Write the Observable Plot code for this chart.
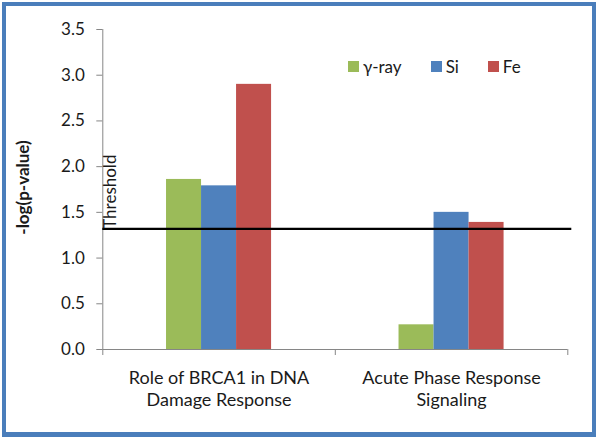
<!DOCTYPE html>
<html>
<head>
<meta charset="utf-8">
<script src="https://cdn.jsdelivr.net/npm/d3@7"></script>
<script src="https://cdn.jsdelivr.net/npm/@observablehq/plot@0.6"></script>
<style>
  html, body { margin: 0; padding: 0; background: #ffffff; }
  #wrap { position: relative; width: 600px; height: 439px; overflow: hidden; font-family: Lato, "Open Sans", sans-serif; }
  #chart { position: absolute; left: 0; top: 0; }
  #frame { position: absolute; left: 2px; top: 2px; width: 594px; height: 435px; box-sizing: border-box; border: 4px solid #4a7ebb; border-bottom-width: 5px; pointer-events: none; }
  #legend { position: absolute; left: 348px; top: 55px; height: 22px; display: flex; align-items: center; font-size: 17px; color: #1a1a1a; }
  #legend .item { display: flex; align-items: center; margin-right: 29px; }
  #legend .sw { width: 11px; height: 11px; margin-right: 4px; }
</style>
</head>
<body>
<div id="wrap">
  <div id="chart"></div>
  <div id="legend"></div>
  <div id="frame"></div>
</div>
<script>
// ---- data ----
const categories = ["Role of BRCA1 in DNA\nDamage Response", "Acute Phase Response\nSignaling"];
const series = ["γ-ray", "Si", "Fe"];
const gammaRay = [1.86, 0.27];
const si = [1.79, 1.50];
const fe = [2.90, 1.39];
const threshold = 1.32;
const yTicks = [0, 0.5, 1.0, 1.5, 2.0, 2.5, 3.0, 3.5];
const colors = ["#9bbb59", "#4f81bd", "#c0504d"];

// ---- build table ----
const valuesBySeries = [gammaRay, si, fe];
const rows = [];
categories.forEach((c, i) => {
  series.forEach((s, j) => rows.push({category: c, ci: i, series: s, value: valuesBySeries[j][i]}));
});

// position of each series' bar inside a category slot of width 1 (Excel-like gap)
const inner = d3.scaleBand().domain(series).range([0, 1]).paddingInner(0).paddingOuter(1.82);
const catBoundaries = d3.range(categories.length + 1);

const gray = "#868686";
const plot = Plot.plot({
  width: 600,
  height: 439,
  marginLeft: 102.3,
  marginRight: 32.7,
  marginTop: 29,
  marginBottom: 90,
  style: {background: "transparent", fontFamily: "Lato, 'Open Sans', sans-serif", color: "#1a1a1a"},
  x: {type: "linear", domain: [0, categories.length]},
  y: {domain: [0, 3.5]},
  color: {domain: series, range: colors},
  marks: [
    Plot.rectY(rows, {
      x1: d => d.ci + inner(d.series),
      x2: d => d.ci + inner(d.series) + inner.bandwidth(),
      y1: 0,
      y2: "value",
      fill: "series"
    }),
    // axes lines
    Plot.ruleX([0], {y1: 0, y2: 3.5, stroke: gray, strokeWidth: 1}),
    Plot.ruleY([0], {x1: 0, x2: categories.length, stroke: gray, strokeWidth: 1}),
    Plot.axisY({ticks: yTicks, tickFormat: d3.format(".1f"), tickSize: 6, tickPadding: 12,
      stroke: gray, fill: "#1a1a1a", fontSize: 17, label: null}),
    Plot.axisX({ticks: catBoundaries, tickSize: 6, tickFormat: () => "", stroke: gray, label: null}),
    // category labels
    Plot.text(categories, {
      x: (d, i) => i + 0.5, y: () => 0,
      text: d => d, lineAnchor: "top", dy: 19, lineHeight: 1.22,
      fontSize: 18, fill: "#1a1a1a"
    }),
    // threshold line + label
    Plot.ruleY([threshold], {x1: 0, x2: categories.length, insetRight: -4, stroke: "#000", strokeWidth: 2.2}),
    Plot.text(["Threshold"], {
      x: () => 0, y: () => threshold, rotate: -90, textAnchor: "start", lineAnchor: "middle",
      dx: 8, fontSize: 17, fill: "#1a1a1a"
    }),
    // y title
    Plot.text(["-log(p-value)"], {
      frameAnchor: "left", rotate: -90, textAnchor: "middle", dx: -79, dy: -2, lineAnchor: "middle",
      fontSize: 17, fontWeight: "bold", fill: "#1a1a1a"
    })
  ]
});
document.getElementById("chart").appendChild(plot);

// legend
const legend = document.getElementById("legend");
series.forEach((s, j) => {
  const item = document.createElement("div");
  item.className = "item";
  const sw = document.createElement("span");
  sw.className = "sw";
  sw.style.background = colors[j];
  const t = document.createElement("span");
  t.textContent = s;
  item.appendChild(sw);
  item.appendChild(t);
  legend.appendChild(item);
});
</script>
</body>
</html>
